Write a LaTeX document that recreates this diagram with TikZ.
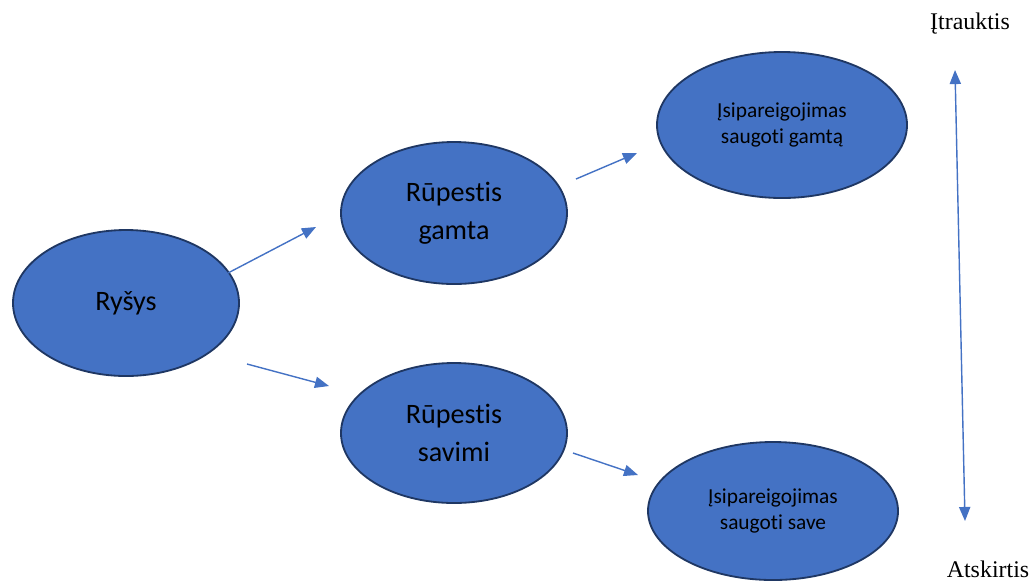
\documentclass[tikz,border=0pt]{standalone}
\usepackage{fontspec}
\setmainfont{Liberation Serif}
\setsansfont{Carlito}[RawFeature={-liga;-clig;-dlig;-calt}]
\usetikzlibrary{shapes.geometric,arrows.meta}
\definecolor{wordblue}{HTML}{4472C4}
\definecolor{wordline}{HTML}{1F3763}
\begin{document}
\begin{tikzpicture}[x=0.025cm,y=-0.025cm,
    bubble/.style={ellipse,draw=wordline,fill=wordblue,line width=1.3pt,inner sep=0pt,align=center},
    big/.style={bubble,minimum width=226*0.025cm,minimum height=142*0.025cm,font=\sffamily\fontsize{20}{27}\selectfont},
    small/.style={bubble,minimum width=250*0.025cm,minimum height=142*0.025cm,font=\sffamily\fontsize{15.2}{19}\selectfont},
    link/.style={draw=wordblue,line width=1pt,-{Triangle[length=10pt,width=8pt]}},
    side/.style={font=\fontsize{17}{20}\selectfont}]
        \useasboundingbox (0,0) rectangle (1029,581);
        \node[big,minimum height=146*0.025cm] (rysys) at (126,303) {Ryšys};
        \node[big] (gamta) at (454,213) {Rūpestis\\gamta};
        \node[big,minimum height=140*0.025cm] (savimi) at (454,433) {Rūpestis\\savimi};
        \node[small,minimum height=146*0.025cm] (isgamta) at (782,125) {Įsipareigojimas\\saugoti gamtą};
        \node[small,minimum height=138*0.025cm] (issave) at (773,511) {Įsipareigojimas\\saugoti save};
        \node[side] (itrauktis) at (970,24) {Įtrauktis};
        \node[side] (atskirtis) at (988,569) {Atskirtis};
        % free arrow ends
        \coordinate (a1) at (228,273); \coordinate (b1) at (316,227);
        \coordinate (a2) at (247,364); \coordinate (b2) at (329,386);
        \coordinate (a3) at (576,179); \coordinate (b3) at (637,153);
        \coordinate (a4) at (573,453); \coordinate (b4) at (638,475);
        \coordinate (top) at (955,70); \coordinate (bottom) at (965,521);
        \foreach \i in {1,2,3,4}{
          \draw[link] (a\i) -- (b\i);
        }
        \draw[link,{Triangle[length=10pt,width=8pt]}-{Triangle[length=10pt,width=8pt]}] (top) -- (bottom);
      \end{tikzpicture}
\end{document}
